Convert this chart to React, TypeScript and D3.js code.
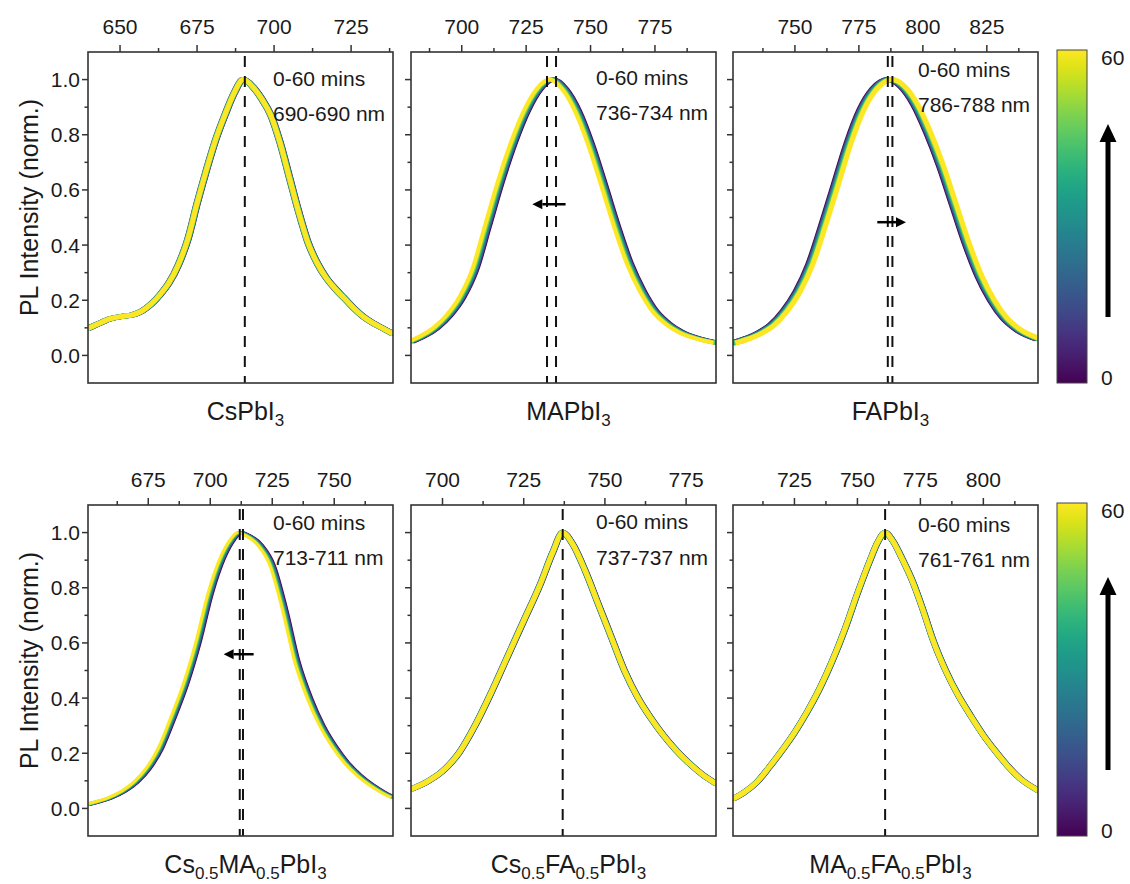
import React from 'react';
import * as d3 from 'd3';

// ---------- DATA ----------
const TIMES = [0, 10, 20, 30, 40, 50, 60];

// CsPbI3
const CS_WL = [639.6, 643, 647, 651, 654, 657, 660, 663, 666, 669, 672, 675, 678, 681, 684, 687, 690, 693, 696, 699, 702, 705, 708, 711, 714, 717, 720, 723, 726, 729, 732, 735, 738.6];
const CS_I = [0.098, 0.115, 0.133, 0.142, 0.147, 0.16, 0.185, 0.22, 0.265, 0.33, 0.42, 0.55, 0.67, 0.78, 0.87, 0.95, 1.0, 0.975, 0.93, 0.87, 0.77, 0.645, 0.52, 0.41, 0.335, 0.28, 0.24, 0.205, 0.17, 0.14, 0.118, 0.1, 0.078];
const CS_SHIFT = [0.4, -0.4, 0.3, -0.3, 0.2, -0.2, 0];
const CS_PEAKS = [690.5];
const CS_DOMAIN = [639.6, 738.6];
const CS_MAJOR = [650, 675, 700, 725];
const CS_MINOR = [662.5, 687.5, 712.5, 737.5];

// MAPbI3
const MA_WL = [680.3, 685, 690, 695, 700, 705, 710, 715, 720, 725, 730, 735, 740, 745, 750, 755, 760, 765, 770, 775, 780, 785, 790, 795, 798.7];
const MA_I = [0.05, 0.07, 0.10, 0.145, 0.21, 0.31, 0.47, 0.63, 0.77, 0.885, 0.965, 1.0, 0.965, 0.885, 0.765, 0.62, 0.47, 0.335, 0.235, 0.16, 0.115, 0.085, 0.066, 0.053, 0.046];
const MA_SHIFT = [1.0, 0.7, 0.4, 0.1, -0.3, -0.6, -1.0];
const MA_PEAKS = [733.1, 736.6];
const MA_DOMAIN = [680.3, 798.7];
const MA_MAJOR = [700, 725, 750, 775];
const MA_MINOR = [687.5, 712.5, 737.5, 762.5, 787.5];

// FAPbI3
const FA_WL = [725.8, 731, 736, 741, 746, 751, 756, 761, 766, 771, 776, 781, 787, 792, 797, 802, 807, 812, 817, 822, 827, 832, 837, 845];
const FA_I = [0.045, 0.06, 0.08, 0.11, 0.16, 0.23, 0.33, 0.47, 0.62, 0.77, 0.89, 0.965, 1.0, 0.975, 0.91, 0.81, 0.69, 0.55, 0.41, 0.29, 0.2, 0.135, 0.095, 0.06];
const FA_SHIFT = [-1.0, -0.7, -0.4, 0, 0.3, 0.7, 1.0];
const FA_PEAKS = [786.3, 788.1];
const FA_DOMAIN = [725.8, 845];
const FA_MAJOR = [750, 775, 800, 825];
const FA_MINOR = [737.5, 762.5, 787.5, 812.5, 837.5];

// Cs0.5MA0.5PbI3
const CSMA_WL = [650.7, 655, 660, 665, 670, 675, 680, 685, 690, 695, 700, 705, 709, 712, 715, 720, 725, 730, 735, 740, 745, 750, 755, 760, 765, 770, 773.7];
const CSMA_I = [0.015, 0.025, 0.04, 0.062, 0.095, 0.145, 0.22, 0.33, 0.45, 0.60, 0.78, 0.91, 0.975, 1.0, 0.99, 0.955, 0.88, 0.72, 0.53, 0.40, 0.30, 0.225, 0.165, 0.12, 0.085, 0.057, 0.04];
const CSMA_SHIFT = [0.9, 0.6, 0.3, 0, -0.3, -0.6, -0.9];
const CSMA_PEAKS = [711.9, 713.2];
const CSMA_DOMAIN = [650.7, 773.7];
const CSMA_MAJOR = [675, 700, 725, 750];
const CSMA_MINOR = [662.5, 687.5, 712.5, 737.5, 762.5];

// Cs0.5FA0.5PbI3
const CSFA_WL = [690.3, 695, 700, 705, 710, 715, 720, 725, 730, 734, 737, 740, 744, 748, 752, 756, 760, 764, 768, 772, 776, 780, 784.2];
const CSFA_I = [0.07, 0.095, 0.135, 0.2, 0.3, 0.42, 0.55, 0.68, 0.81, 0.93, 1.0, 0.96, 0.86, 0.74, 0.62, 0.50, 0.405, 0.33, 0.265, 0.21, 0.163, 0.123, 0.09];
const CSFA_SHIFT = [0.3, -0.3, 0.2, -0.2, 0.1, -0.1, 0];
const CSFA_PEAKS = [737];
const CSFA_DOMAIN = [690.3, 784.2];
const CSFA_MAJOR = [700, 725, 750, 775];
const CSFA_MINOR = [712.5, 737.5, 762.5];

// MA0.5FA0.5PbI3
const MAFA_WL = [700.6, 705, 710, 715, 720, 725, 730, 735, 740, 745, 750, 755, 758, 761, 764, 768, 772, 776, 780, 785, 790, 795, 800, 805, 810, 815, 821.7];
const MAFA_I = [0.035, 0.058, 0.095, 0.15, 0.21, 0.275, 0.35, 0.435, 0.535, 0.65, 0.78, 0.9, 0.965, 1.0, 0.97, 0.9, 0.82, 0.72, 0.61, 0.50, 0.41, 0.335, 0.265, 0.205, 0.15, 0.105, 0.065];
const MAFA_SHIFT = [0.4, -0.3, 0.3, -0.2, 0.2, -0.1, 0];
const MAFA_PEAKS = [761];
const MAFA_DOMAIN = [700.6, 821.7];
const MAFA_MAJOR = [725, 750, 775, 800];
const MAFA_MINOR = [712.5, 737.5, 762.5, 787.5, 812.5];

const RANGE_LABELS = ['690-690 nm', '736-734 nm', '786-788 nm', '713-711 nm', '737-737 nm', '761-761 nm'];
const TIME_LABEL = '0-60 mins';
const Y_MAJOR = [0, 0.2, 0.4, 0.6, 0.8, 1.0];
const Y_MINOR = [0.1, 0.3, 0.5, 0.7, 0.9];
const Y_DOMAIN = [-0.1, 1.1];
const Y_LABEL = 'PL Intensity (norm.)';
const CBAR_LABELS = ['0', '60'];

// shift arrows: [fromNm, toNm, intensity]
const MA_ARROW = [740.3, 727.4, 0.548];
const FA_ARROW = [782.2, 793.4, 0.483];
const CSMA_ARROW = [717.5, 705.4, 0.559];

type Seg = { t: string; sub?: boolean };
const TITLES: Seg[][] = [
  [{ t: 'CsPbI' }, { t: '3', sub: true }],
  [{ t: 'MAPbI' }, { t: '3', sub: true }],
  [{ t: 'FAPbI' }, { t: '3', sub: true }],
  [{ t: 'Cs' }, { t: '0.5', sub: true }, { t: 'MA' }, { t: '0.5', sub: true }, { t: 'PbI' }, { t: '3', sub: true }],
  [{ t: 'Cs' }, { t: '0.5', sub: true }, { t: 'FA' }, { t: '0.5', sub: true }, { t: 'PbI' }, { t: '3', sub: true }],
  [{ t: 'MA' }, { t: '0.5', sub: true }, { t: 'FA' }, { t: '0.5', sub: true }, { t: 'PbI' }, { t: '3', sub: true }],
];

// ---------- LAYOUT ----------
const FONT = '"Liberation Sans", Arial, Helvetica, sans-serif';
const ROW_TOP = [52, 505];
const COL_LEFT = [88, 411, 733];
const PW = 305;
const PH = 331;
const AXIS = '#333';
const TEXT = '#1a1a1a';
const ANN_Y = [[34, 69], [33, 68], [25, 60], [25, 60], [24, 60], [27, 62]];
const STROKE_W = [5, 4, 5, 3, 5, 5];

const PANELS = [
  { wl: CS_WL, inten: CS_I, shift: CS_SHIFT, peaks: CS_PEAKS, domain: CS_DOMAIN, major: CS_MAJOR, minor: CS_MINOR, arrow: null as number[] | null },
  { wl: MA_WL, inten: MA_I, shift: MA_SHIFT, peaks: MA_PEAKS, domain: MA_DOMAIN, major: MA_MAJOR, minor: MA_MINOR, arrow: MA_ARROW },
  { wl: FA_WL, inten: FA_I, shift: FA_SHIFT, peaks: FA_PEAKS, domain: FA_DOMAIN, major: FA_MAJOR, minor: FA_MINOR, arrow: FA_ARROW },
  { wl: CSMA_WL, inten: CSMA_I, shift: CSMA_SHIFT, peaks: CSMA_PEAKS, domain: CSMA_DOMAIN, major: CSMA_MAJOR, minor: CSMA_MINOR, arrow: CSMA_ARROW },
  { wl: CSFA_WL, inten: CSFA_I, shift: CSFA_SHIFT, peaks: CSFA_PEAKS, domain: CSFA_DOMAIN, major: CSFA_MAJOR, minor: CSFA_MINOR, arrow: null },
  { wl: MAFA_WL, inten: MAFA_I, shift: MAFA_SHIFT, peaks: MAFA_PEAKS, domain: MAFA_DOMAIN, major: MAFA_MAJOR, minor: MAFA_MINOR, arrow: null },
];

const tColor = d3.scaleSequential(d3.interpolateViridis).domain([0, 60]);

function Title({ segs, x, y }: { segs: Seg[]; x: number; y: number }) {
  let prevSub = false;
  return (
    <text x={x} y={y} textAnchor="middle" fontSize={25} fill={TEXT} fontFamily={FONT}>
      {segs.map((s, i) => {
        let dy = 0;
        if (s.sub && !prevSub) dy = 6;
        if (!s.sub && prevSub) dy = -6;
        prevSub = !!s.sub;
        return (
          <tspan key={i} dy={dy} fontSize={s.sub ? 17 : 25}>{s.t}</tspan>
        );
      })}
    </text>
  );
}

function Panel({ idx }: { idx: number }) {
  const p = PANELS[idx];
  const col = idx % 3;
  const row = Math.floor(idx / 3);
  const x0 = COL_LEFT[col];
  const y0 = ROW_TOP[row];
  const x = d3.scaleLinear().domain(p.domain).range([x0, x0 + PW]);
  const y = d3.scaleLinear().domain(Y_DOMAIN).range([y0 + PH, y0]);
  const line = d3
    .line<[number, number]>()
    .x((d) => x(d[0]))
    .y((d) => y(d[1]))
    .curve(d3.curveMonotoneX);
  const clipId = `clip${idx}`;
  const ann = ANN_Y[idx];

  let arrowEl = null;
  if (p.arrow) {
    const [fromNm, toNm, yv] = p.arrow;
    const xa = x(fromNm);
    const xb = x(toNm);
    const yy = y(yv);
    const dir = Math.sign(xb - xa);
    const hl = 10;
    const hw = 5;
    arrowEl = (
      <g>
        <line x1={xa} y1={yy} x2={xb - dir * hl} y2={yy} stroke="#000" strokeWidth={2.5} />
        <path d={`M${xb},${yy} L${xb - dir * hl},${yy - hw} L${xb - dir * hl},${yy + hw} Z`} fill="#000" />
      </g>
    );
  }

  return (
    <g>
      <defs>
        <clipPath id={clipId}>
          <rect x={x0} y={y0} width={PW} height={PH} />
        </clipPath>
      </defs>
      <g clipPath={`url(#${clipId})`}>
        {TIMES.map((t, i) => {
          const pts: [number, number][] = p.wl.map((w, j) => [w + p.shift[i], p.inten[j]]);
          return (
            <path key={t} d={line(pts) || ''} fill="none" stroke={tColor(t)} strokeWidth={STROKE_W[idx]} strokeLinejoin="round" />
          );
        })}
      </g>
      {p.peaks.map((pk, i) => (
        <line key={i} x1={x(pk)} x2={x(pk)} y1={y0 + 4} y2={y0 + PH} stroke="#111" strokeWidth={2} strokeDasharray="11,9" />
      ))}
      {arrowEl}
      <rect x={x0} y={y0} width={PW} height={PH} fill="none" stroke={AXIS} strokeWidth={1.6} />
      {p.major.map((v) => (
        <g key={'M' + v}>
          <line x1={x(v)} x2={x(v)} y1={y0} y2={y0 - 7} stroke={AXIS} strokeWidth={1.5} />
          <text x={x(v)} y={y0 - 18} textAnchor="middle" fontSize={21} fill={TEXT} fontFamily={FONT}>{v}</text>
        </g>
      ))}
      {p.minor.map((v) => (
        <line key={'m' + v} x1={x(v)} x2={x(v)} y1={y0} y2={y0 - 4} stroke={AXIS} strokeWidth={1.5} />
      ))}
      {Y_MAJOR.map((v) => (
        <g key={'Y' + v}>
          <line x1={x0} x2={x0 - 6} y1={y(v)} y2={y(v)} stroke={AXIS} strokeWidth={1.5} />
          {col === 0 && (
            <text x={x0 - 8} y={y(v)} dy="0.36em" textAnchor="end" fontSize={21} fill={TEXT} fontFamily={FONT}>{v.toFixed(1)}</text>
          )}
        </g>
      ))}
      {Y_MINOR.map((v) => (
        <line key={'y' + v} x1={x0} x2={x0 - 3.5} y1={y(v)} y2={y(v)} stroke={AXIS} strokeWidth={1.5} />
      ))}
      <text x={x0 + 185} y={y0 + ann[0]} fontSize={21} fill={TEXT} fontFamily={FONT}>{TIME_LABEL}</text>
      <text x={x0 + 185} y={y0 + ann[1]} fontSize={21} fill={TEXT} fontFamily={FONT}>{RANGE_LABELS[idx]}</text>
      <Title segs={TITLES[idx]} x={x0 + PW / 2 + 5} y={y0 + PH + 37} />
      {col === 0 && (
        <text transform={`translate(38,${y0 + PH / 2 - 10}) rotate(-90)`} textAnchor="middle" fontSize={25} fill={TEXT} fontFamily={FONT}>{Y_LABEL}</text>
      )}
    </g>
  );
}

function ColorBar({ row }: { row: number }) {
  const top = ROW_TOP[row] - 2;
  const h = PH + 2;
  const cx = 1057;
  const w = 30;
  const cs = d3.scaleLinear().domain([0, 60]).range([top + h, top]);
  const gid = `grad${row}`;
  const stops = d3.range(0, 1.0001, 0.05);
  const ax = 1108;
  const tip = ROW_TOP[row] + 72;
  const tail = ROW_TOP[row] + 265;
  return (
    <g>
      <defs>
        <linearGradient id={gid} x1="0" y1="1" x2="0" y2="0">
          {stops.map((s) => (
            <stop key={s} offset={`${s * 100}%`} stopColor={d3.interpolateViridis(s)} />
          ))}
        </linearGradient>
      </defs>
      <rect x={cx} y={cs(60)} width={w} height={cs(0) - cs(60)} fill={`url(#${gid})`} stroke="#444" strokeWidth={1} />
      <text x={1101} y={cs(60) + 15} fontSize={21} fill={TEXT} fontFamily={FONT}>{CBAR_LABELS[1]}</text>
      <text x={1101} y={cs(0) + 2} fontSize={21} fill={TEXT} fontFamily={FONT}>{CBAR_LABELS[0]}</text>
      <line x1={ax} x2={ax} y1={tail} y2={tip + 15} stroke="#000" strokeWidth={5} />
      <path d={`M${ax},${tip} L${ax - 8.5},${tip + 18} L${ax + 8.5},${tip + 18} Z`} fill="#000" />
    </g>
  );
}

export default function App() {
  return (
    <svg width={1130} height={884} style={{ position: 'absolute', left: 0, top: 0, background: '#fff' }} fontFamily={FONT}>
      <rect x={0} y={0} width={1130} height={884} fill="#fff" />
      {PANELS.map((_, i) => (
        <Panel key={i} idx={i} />
      ))}
      <ColorBar row={0} />
      <ColorBar row={1} />
    </svg>
  );
}
